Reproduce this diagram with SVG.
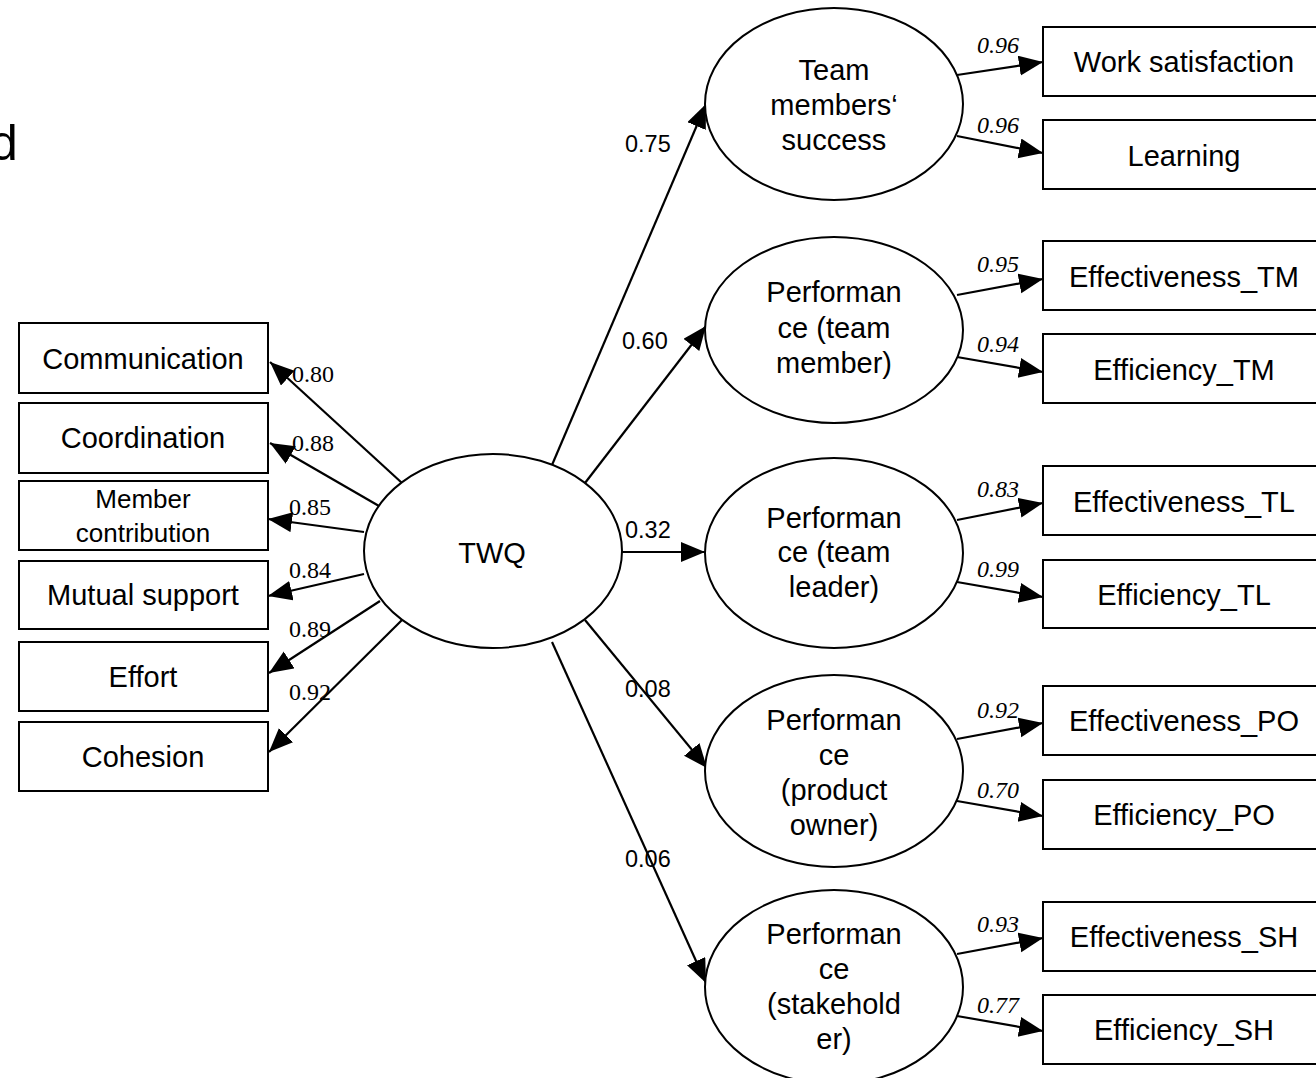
<svg xmlns="http://www.w3.org/2000/svg" width="1316" height="1078" viewBox="0 0 1316 1078">
<style>
.box{fill:#fff;stroke:#000;stroke-width:2}
.ell{fill:#fff;stroke:#000;stroke-width:2}
.t{font-family:"Liberation Sans",Arial,sans-serif;font-size:29px;fill:#000;text-anchor:middle}
.ts{font-family:"Liberation Sans",Arial,sans-serif;font-size:26px;fill:#000;text-anchor:middle}
.n{font-family:"Liberation Sans",Arial,sans-serif;font-size:23.5px;fill:#000}
.s{font-family:"Liberation Serif","Times New Roman",serif;font-size:24px;fill:#000}
.si{font-family:"Liberation Serif","Times New Roman",serif;font-size:24px;font-style:italic;fill:#000}
.c{stroke:#000;stroke-width:2.2;fill:none;marker-end:url(#ah)}
</style>
<defs>
<marker id="ah" markerUnits="userSpaceOnUse" markerWidth="26" markerHeight="22" refX="24" refY="10" orient="auto">
<path d="M0,0 L24,10 L0,20 z" fill="#000"/>
</marker>
</defs>
<rect width="1316" height="1078" fill="#fff"/>
<text x="-10" y="160" style="font-family:'Liberation Sans',Arial,sans-serif;font-size:50px">d</text>

<g id="connectors">
<line class="c" x1="402" y1="483" x2="270" y2="362"/>
<line class="c" x1="379" y1="506" x2="270" y2="443"/>
<line class="c" x1="364" y1="532" x2="268" y2="519"/>
<line class="c" x1="364" y1="574" x2="268" y2="596"/>
<line class="c" x1="380" y1="601" x2="269" y2="673"/>
<line class="c" x1="402" y1="620" x2="269" y2="752"/>
<line class="c" x1="552" y1="465" x2="706" y2="104"/>
<line class="c" x1="585" y1="483" x2="706" y2="326"/>
<line class="c" x1="622" y1="552" x2="705" y2="552"/>
<line class="c" x1="585" y1="620" x2="707" y2="768"/>
<line class="c" x1="552" y1="642" x2="706" y2="983"/>
<line class="c" x1="957" y1="75" x2="1043" y2="62"/>
<line class="c" x1="957" y1="136" x2="1043" y2="153"/>
<line class="c" x1="957" y1="295" x2="1043" y2="279"/>
<line class="c" x1="957" y1="357" x2="1043" y2="372"/>
<line class="c" x1="957" y1="520" x2="1043" y2="503"/>
<line class="c" x1="957" y1="582" x2="1043" y2="597"/>
<line class="c" x1="957" y1="739" x2="1043" y2="723"/>
<line class="c" x1="957" y1="801" x2="1043" y2="816"/>
<line class="c" x1="957" y1="954" x2="1043" y2="938"/>
<line class="c" x1="957" y1="1016" x2="1043" y2="1031"/>
</g>

<g id="labels">
<text class="s" x="292" y="382">0.80</text>
<text class="s" x="292" y="451">0.88</text>
<text class="s" x="289" y="515">0.85</text>
<text class="s" x="289" y="578">0.84</text>
<text class="s" x="289" y="637">0.89</text>
<text class="s" x="289" y="700">0.92</text>
<text class="n" x="625" y="152">0.75</text>
<text class="n" x="622" y="349">0.60</text>
<text class="n" x="625" y="538">0.32</text>
<text class="n" x="625" y="697">0.08</text>
<text class="n" x="625" y="867">0.06</text>
<text class="si" x="977" y="53">0.96</text>
<text class="si" x="977" y="133">0.96</text>
<text class="si" x="977" y="272">0.95</text>
<text class="si" x="977" y="352">0.94</text>
<text class="si" x="977" y="497">0.83</text>
<text class="si" x="977" y="577">0.99</text>
<text class="si" x="977" y="718">0.92</text>
<text class="si" x="977" y="798">0.70</text>
<text class="si" x="977" y="932">0.93</text>
<text class="si" x="977" y="1013">0.77</text>
</g>

<g id="n-communication"><rect class="box" x="19" y="323" width="249" height="70"/><text class="t" x="143" y="369">Communication</text></g>
<g id="n-coordination"><rect class="box" x="19" y="403" width="249" height="70"/><text class="t" x="143" y="448">Coordination</text></g>
<g id="n-member"><rect class="box" x="19" y="481" width="249" height="69"/><text class="ts" x="143" y="508">Member</text><text class="ts" x="143" y="542">contribution</text></g>
<g id="n-mutual"><rect class="box" x="19" y="561" width="249" height="68"/><text class="t" x="143" y="605">Mutual support</text></g>
<g id="n-effort"><rect class="box" x="19" y="642" width="249" height="69"/><text class="t" x="143" y="687">Effort</text></g>
<g id="n-cohesion"><rect class="box" x="19" y="722" width="249" height="69"/><text class="t" x="143" y="767">Cohesion</text></g>

<g id="n-twq"><ellipse class="ell" cx="493" cy="551" rx="129" ry="97"/><text class="t" x="492" y="563">TWQ</text></g>

<g id="n-tss"><ellipse class="ell" cx="834" cy="104" rx="129" ry="96"/><text class="t" x="834" y="80">Team</text><text class="t" x="834" y="115">members‘</text><text class="t" x="834" y="150">success</text></g>
<g id="n-ptm"><ellipse class="ell" cx="834" cy="330" rx="129" ry="93"/><text class="t" x="834" y="302">Performan</text><text class="t" x="834" y="338">ce (team</text><text class="t" x="834" y="373">member)</text></g>
<g id="n-ptl"><ellipse class="ell" cx="834" cy="553" rx="129" ry="95"/><text class="t" x="834" y="528">Performan</text><text class="t" x="834" y="562">ce (team</text><text class="t" x="834" y="597">leader)</text></g>
<g id="n-ppo"><ellipse class="ell" cx="834" cy="771" rx="129" ry="96"/><text class="t" x="834" y="730">Performan</text><text class="t" x="834" y="765">ce</text><text class="t" x="834" y="800">(product</text><text class="t" x="834" y="835">owner)</text></g>
<g id="n-psh"><ellipse class="ell" cx="834" cy="987" rx="129" ry="97"/><text class="t" x="834" y="944">Performan</text><text class="t" x="834" y="979">ce</text><text class="t" x="834" y="1014">(stakehold</text><text class="t" x="834" y="1049">er)</text></g>

<g id="n-work"><rect class="box" x="1043" y="27" width="285" height="69"/><text class="t" x="1184" y="72">Work satisfaction</text></g>
<g id="n-learning"><rect class="box" x="1043" y="120" width="285" height="69"/><text class="t" x="1184" y="166">Learning</text></g>
<g id="n-efftm"><rect class="box" x="1043" y="241" width="285" height="69"/><text class="t" x="1184" y="287">Effectiveness_TM</text></g>
<g id="n-efitm"><rect class="box" x="1043" y="334" width="285" height="69"/><text class="t" x="1184" y="380">Efficiency_TM</text></g>
<g id="n-efftl"><rect class="box" x="1043" y="466" width="285" height="69"/><text class="t" x="1184" y="512">Effectiveness_TL</text></g>
<g id="n-efitl"><rect class="box" x="1043" y="560" width="285" height="68"/><text class="t" x="1184" y="605">Efficiency_TL</text></g>
<g id="n-effpo"><rect class="box" x="1043" y="686" width="285" height="69"/><text class="t" x="1184" y="731">Effectiveness_PO</text></g>
<g id="n-efipo"><rect class="box" x="1043" y="780" width="285" height="69"/><text class="t" x="1184" y="825">Efficiency_PO</text></g>
<g id="n-effsh"><rect class="box" x="1043" y="902" width="285" height="69"/><text class="t" x="1184" y="947">Effectiveness_SH</text></g>
<g id="n-efish"><rect class="box" x="1043" y="995" width="285" height="69"/><text class="t" x="1184" y="1040">Efficiency_SH</text></g>
</svg>
